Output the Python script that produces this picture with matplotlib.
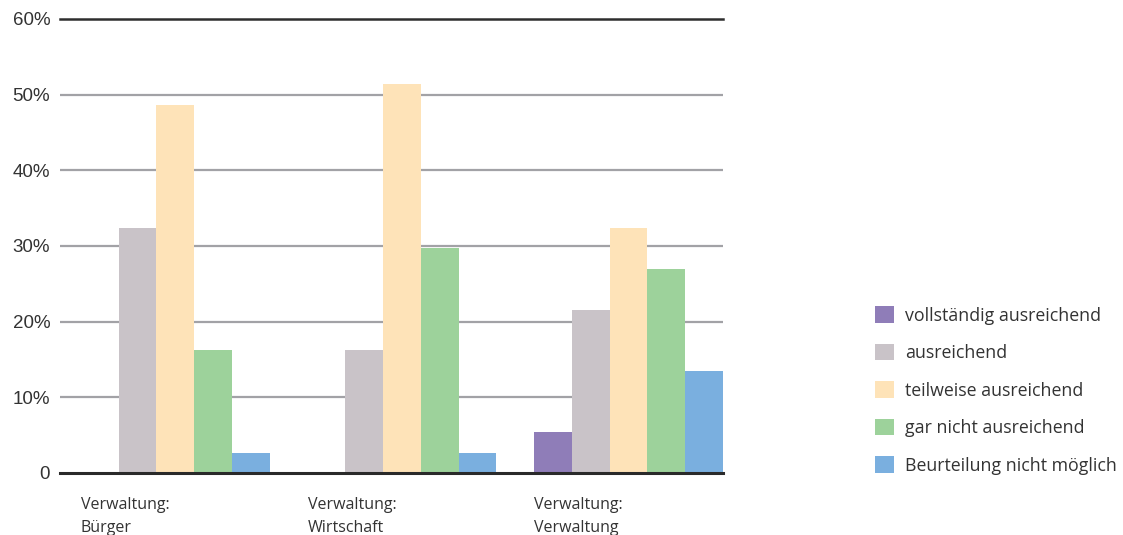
import numpy as np
import matplotlib.pyplot as plt

# Anteile je Bereich (in %)
categories = ["Verwaltung:\nBürger", "Verwaltung:\nWirtschaft", "Verwaltung:\nVerwaltung"]
series = ["vollständig ausreichend", "ausreichend", "teilweise ausreichend",
          "gar nicht ausreichend", "Beurteilung nicht möglich"]
vollstaendig = [0.0, 0.0, 5.4]
ausreichend = [32.4, 16.2, 21.6]
teilweise = [48.6, 51.4, 32.4]
gar_nicht = [16.2, 29.7, 27.0]
nicht_moeglich = [2.7, 2.7, 13.5]
yticks = [0, 10, 20, 30, 40, 50, 60]
ytick_labels = ["0", "10%", "20%", "30%", "40%", "50%", "60%"]

colors = ["#8f7db8", "#c9c3c8", "#fee3b8", "#9dd29b", "#7aafdf"]
values = [vollstaendig, ausreichend, teilweise, gar_nicht, nicht_moeglich]

fig = plt.figure(figsize=(11.23, 5.35), dpi=100)
ax = fig.add_axes([0.0534, 0.1159, 0.5904, 0.8486])

group_pos = np.arange(len(categories)) * 6
for j, (name, vals, c) in enumerate(zip(series, values, colors)):
    ax.bar(group_pos + j, vals, width=1.0, align="edge", color=c,
           label=name, zorder=2, linewidth=0)

ax.set_xlim(-0.556, 17)
ax.set_ylim(0, 60)

# Rasterlinien
for y in yticks[1:-1]:
    ax.axhline(y, color="#a2a2a6", lw=1.6, zorder=1)
ax.axhline(60, color="#2e2e2e", lw=1.8, zorder=3, clip_on=False)
ax.axhline(0, color="#2a2a2a", lw=2.2, zorder=3, clip_on=False)

for s in ax.spines.values():
    s.set_visible(False)
ax.set_xticks([])
ax.set_yticks(yticks)
ax.set_yticklabels(ytick_labels, fontfamily="Liberation Sans", fontsize=13.5,
                   color="#333333")
ax.tick_params(axis="y", length=0, pad=7)

for x, lab in zip(group_pos, categories):
    ax.text(x, -3.2, lab, ha="left", va="top", fontsize=11.5,
            fontfamily="Open Sans", color="#333333", linespacing=1.55,
            transform=ax.transData, clip_on=False)

fig.legend(loc="center left", bbox_to_anchor=(0.7715, 0.27), frameon=False,
           prop={"family": "Open Sans", "size": 12.8}, handlelength=1.05,
           handleheight=1.05, handletextpad=0.62, labelspacing=1.08,
           labelcolor="#333333", borderpad=0)

fig.savefig("out.png", dpi=100)
